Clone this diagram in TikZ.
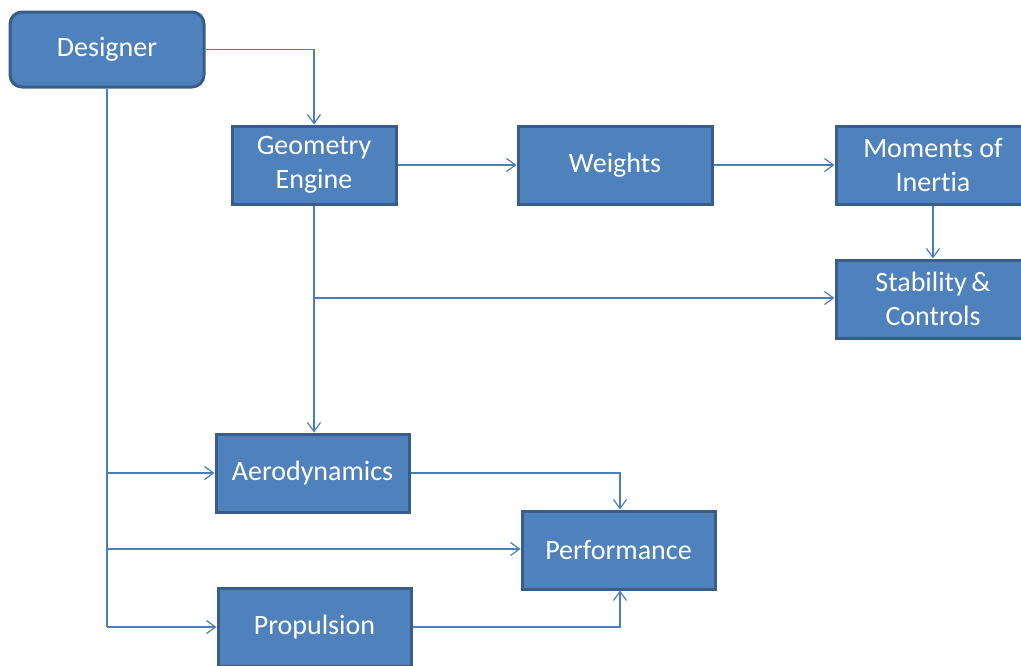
\documentclass[tikz,border=0pt]{standalone}
\usepackage{fontspec}
\setmainfont[RawFeature={-liga}]{Carlito}
\usetikzlibrary{arrows.meta}
\definecolor{boxfill}{HTML}{4F81BD}
\definecolor{boxedge}{HTML}{385D8A}
\definecolor{linec}{HTML}{4A7EBB}
\tikzset{
  blk/.style={draw=boxedge, line width=3pt, fill=boxfill, text=white, align=center,
    minimum width=194pt, minimum height=78pt, inner sep=0pt,
    font=\fontsize{28}{34}\selectfont},
  conn/.style={draw=linec, line width=1.2pt, -{Straight Barb[length=9pt,width=13pt,line width=1.2pt]}},
  plain/.style={draw=linec, line width=1.2pt}
}
\begin{document}
\begin{tikzpicture}[x=1pt,y=-1pt]
\useasboundingbox (0,0) rectangle (1021,665);
\clip (0,0) rectangle (1021,665);
\fill[white] (0,0) rectangle (1021,665);
\node[blk, rounded corners=12pt, minimum height=75pt] (des) at (107,49.5) {\raisebox{-2pt}{Designer}};
\node[blk, minimum width=164pt] (geo) at (314,165) {Geometry\\Engine};
\node[blk] (wei) at (615,165) {\raisebox{-2pt}{Weights}};
\node[blk] (mom) at (933,165) {Moments of\\Inertia};
\node[blk] (sta) at (933,299) {Stability\,\&\\Controls};
\node[blk, minimum width=193pt] (aer) at (312.5,473) {\raisebox{-2pt}{Aerodynamics}};
\node[blk, minimum width=193pt] (per) at (618.5,550) {\raisebox{-1pt}{Performance}};
\node[blk, minimum width=193pt] (pro) at (314.5,627) {\raisebox{-2pt}{Propulsion}};
\coordinate (br) at (314,298);
\coordinate (dA) at (107,473);
\coordinate (dP) at (107,549);
\coordinate (dQ) at (107,627);
\draw[conn] (des.east) -| (geo.north);
\draw[conn] (geo.east) -- (wei.west);
\draw[conn] (wei.east) -- (mom.west);
\draw[conn] (mom.south) -- (sta.north);
\draw[conn] (geo.south) -- (geo.south |- aer.north);
\draw[conn] (br) -- (sta.west |- br);
\draw[plain] (des.south) -- (dQ);
\draw[conn] (dA) -- (aer.west);
\draw[conn] (dP) -- (per.west |- dP);
\draw[conn] (dQ) -- (pro.west);
\draw[conn] (aer.east) -| ([xshift=1.5pt]per.north);
\draw[conn] (pro.east) -| ([xshift=1.5pt]per.south);
\end{tikzpicture}
\end{document}
